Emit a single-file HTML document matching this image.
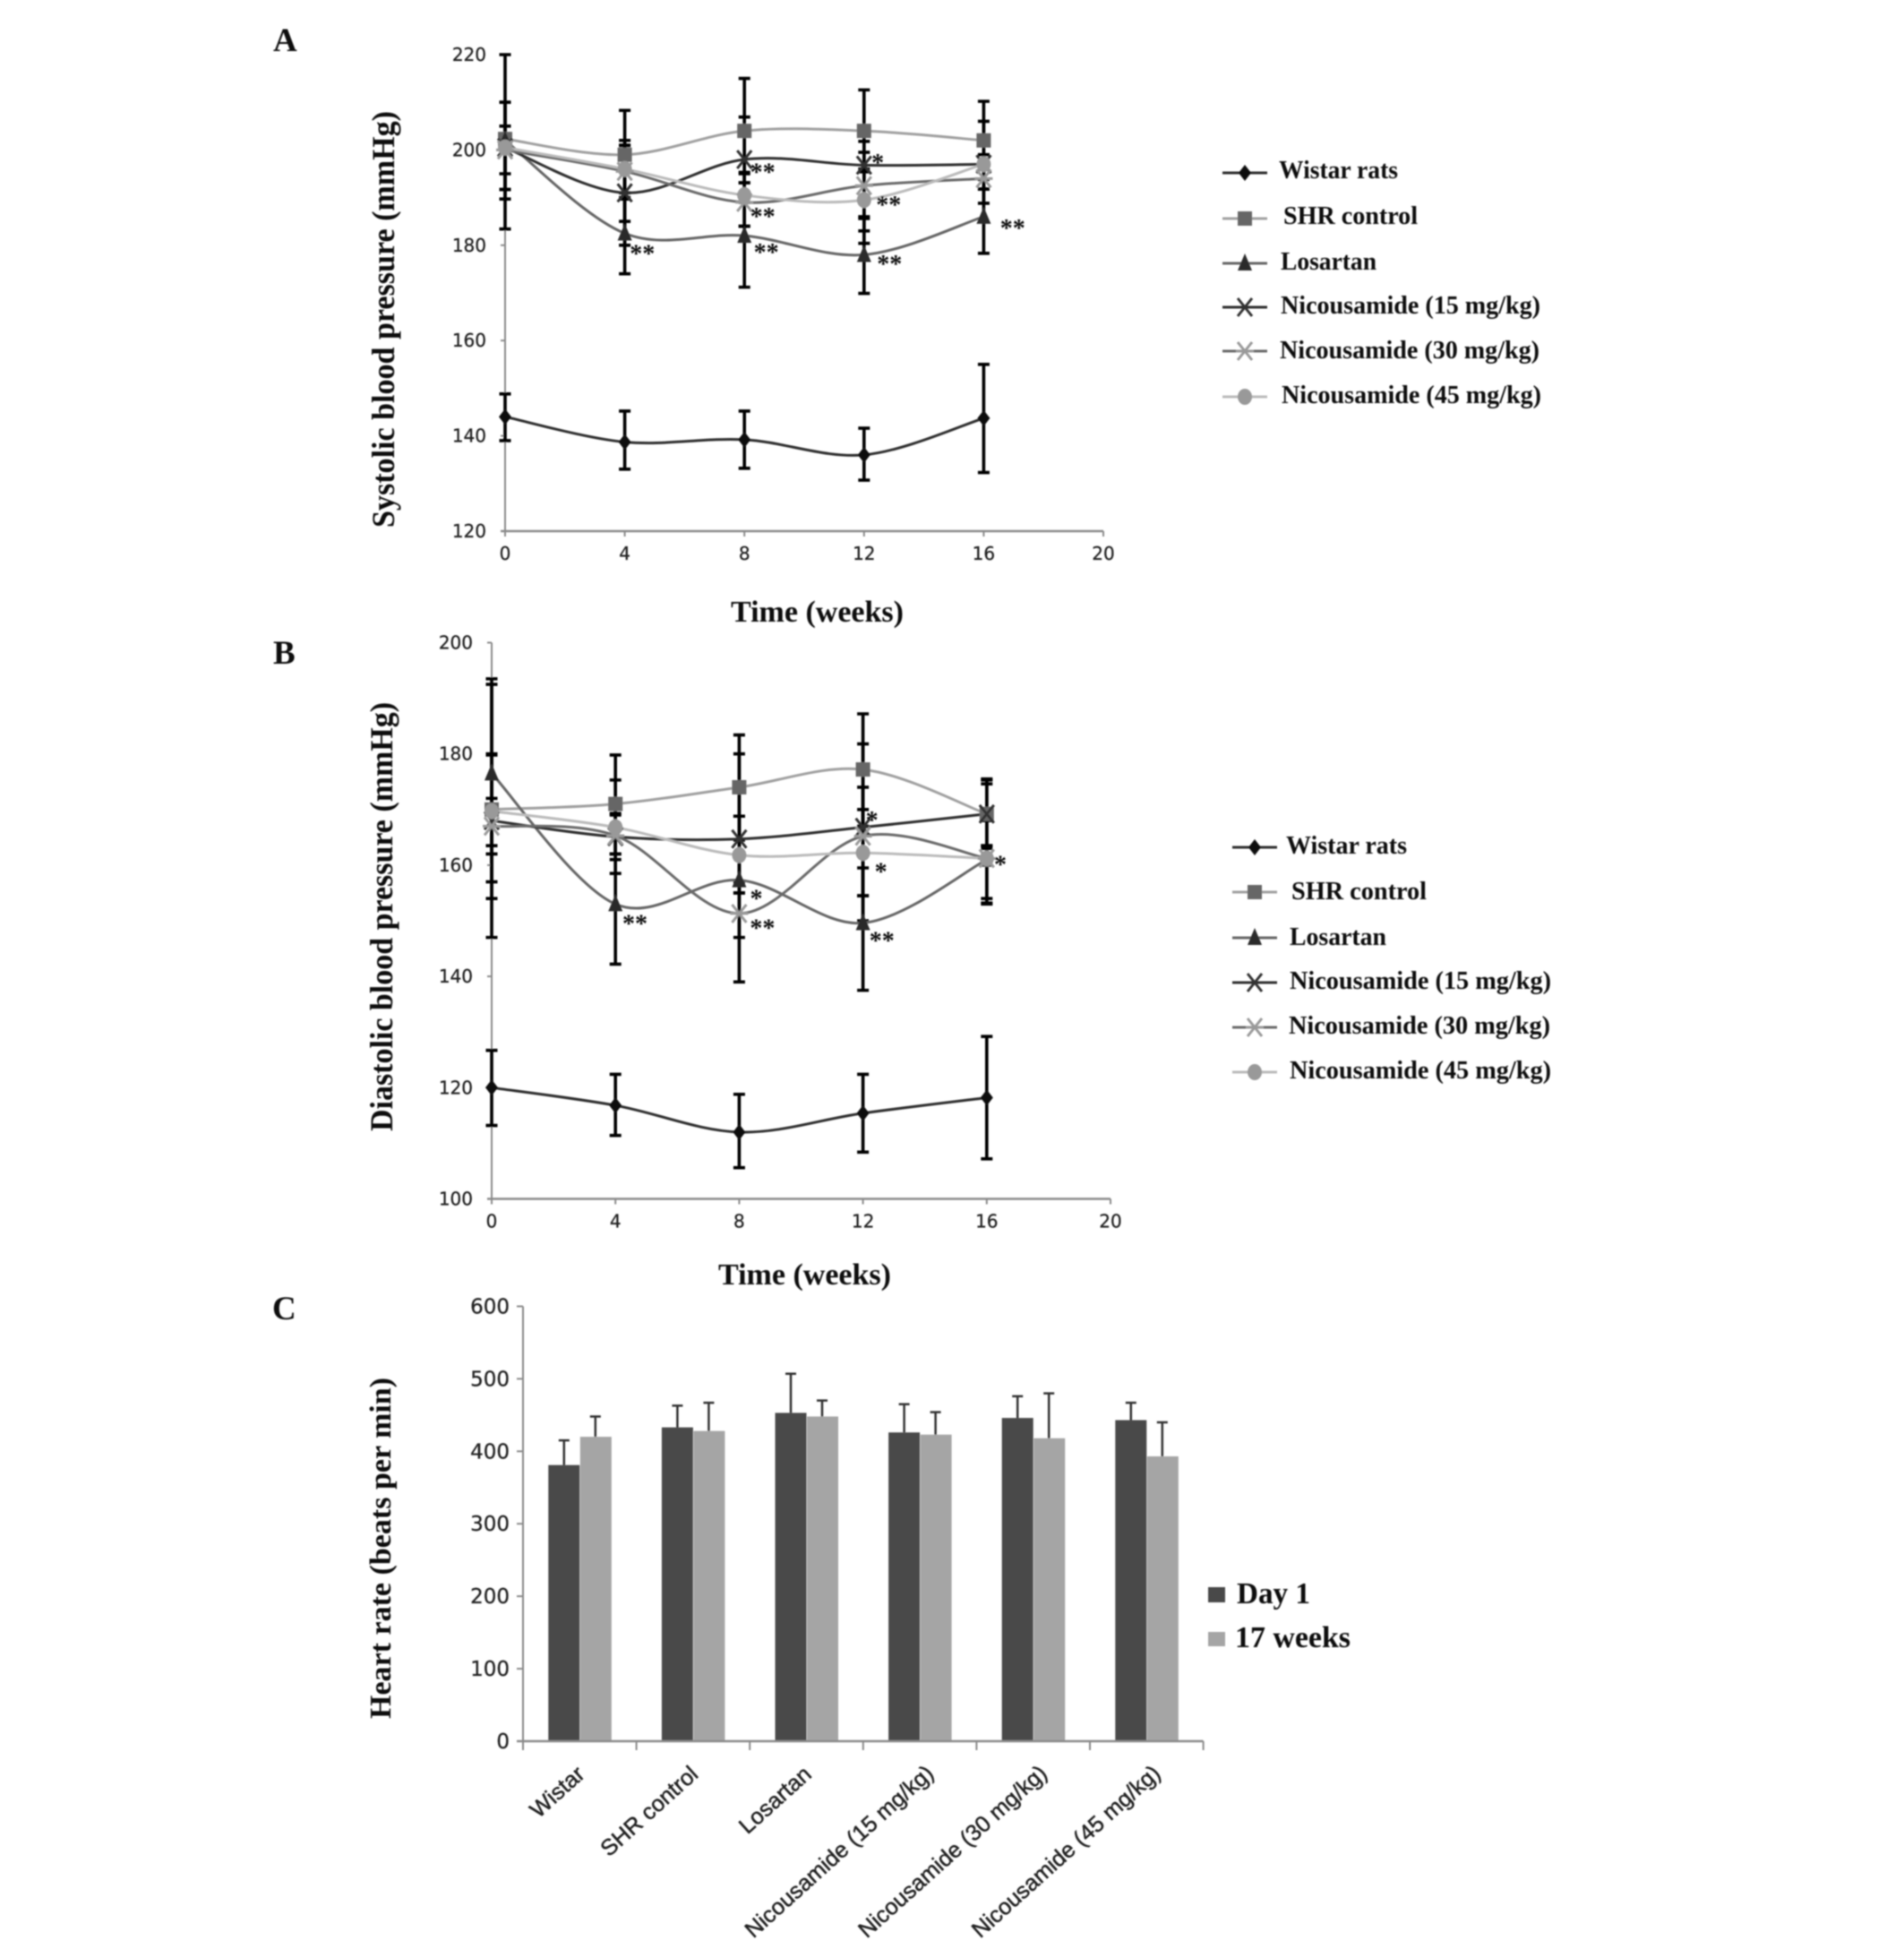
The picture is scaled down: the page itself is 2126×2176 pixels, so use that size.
<!DOCTYPE html>
<html lang="en">
<head>
<meta charset="utf-8">
<title>Blood pressure and heart rate charts</title>
<style>
html,body{margin:0;padding:0;background:#fff;}
svg{display:block;}
.serif{font-family:"Liberation Serif",serif;font-weight:bold;fill:#111;}
.tick{font-family:"DejaVu Sans",sans-serif;fill:#222;stroke:#222;stroke-width:0.3;}
.cat{font-family:"Liberation Sans",sans-serif;fill:#222;stroke:#222;stroke-width:0.5;}
</style>
</head>
<body>
<svg id="figure" xmlns="http://www.w3.org/2000/svg" width="2126" height="2176" viewBox="0 0 2126 2176">
<defs><filter id="soft" x="0" y="0" width="100%" height="100%"><feGaussianBlur stdDeviation="0.7"/></filter></defs>
<rect width="2126" height="2176" fill="#fff"/>
<g id="root" filter="url(#soft)">
<text class="serif" x="305" y="57" font-size="37">A</text>
<text class="serif" x="305" y="741" font-size="37">B</text>
<text class="serif" x="304" y="1473" font-size="37">C</text>

<text class="serif" transform="translate(440 589) rotate(-90)" font-size="36" textLength="465" lengthAdjust="spacingAndGlyphs">Systolic blood pressure (mmHg)</text>
<text class="serif" x="816" y="694" font-size="34" textLength="193" lengthAdjust="spacingAndGlyphs">Time (weeks)</text>
<text class="serif" transform="translate(438 1263) rotate(-90)" font-size="36" textLength="479" lengthAdjust="spacingAndGlyphs">Diastolic blood pressure (mmHg)</text>
<text class="serif" x="802" y="1434" font-size="34" textLength="193" lengthAdjust="spacingAndGlyphs">Time (weeks)</text>
<text class="serif" transform="translate(436 1919) rotate(-90)" font-size="34" textLength="381" lengthAdjust="spacingAndGlyphs">Heart rate (beats per min)</text>

<g font-size="28">
<text class="serif" x="1428" y="199" textLength="133" lengthAdjust="spacingAndGlyphs">Wistar rats</text>
<text class="serif" x="1433" y="250" textLength="150" lengthAdjust="spacingAndGlyphs">SHR control</text>
<text class="serif" x="1430" y="301" textLength="107" lengthAdjust="spacingAndGlyphs">Losartan</text>
<text class="serif" x="1430" y="350" textLength="290" lengthAdjust="spacingAndGlyphs">Nicousamide (15 mg/kg)</text>
<text class="serif" x="1429" y="400" textLength="290" lengthAdjust="spacingAndGlyphs">Nicousamide (30 mg/kg)</text>
<text class="serif" x="1431" y="450" textLength="290" lengthAdjust="spacingAndGlyphs">Nicousamide (45 mg/kg)</text>
</g>
<g font-size="28">
<text class="serif" x="1436" y="953" textLength="135" lengthAdjust="spacingAndGlyphs">Wistar rats</text>
<text class="serif" x="1442" y="1004" textLength="151" lengthAdjust="spacingAndGlyphs">SHR control</text>
<text class="serif" x="1440" y="1055" textLength="108" lengthAdjust="spacingAndGlyphs">Losartan</text>
<text class="serif" x="1440" y="1104" textLength="292" lengthAdjust="spacingAndGlyphs">Nicousamide (15 mg/kg)</text>
<text class="serif" x="1439" y="1154" textLength="292" lengthAdjust="spacingAndGlyphs">Nicousamide (30 mg/kg)</text>
<text class="serif" x="1440" y="1204" textLength="292" lengthAdjust="spacingAndGlyphs">Nicousamide (45 mg/kg)</text>
</g>
<g font-size="34">
<rect x="1349" y="1772" width="19" height="17" fill="#4a4a4a"/>
<text class="serif" x="1381" y="1790" textLength="82" lengthAdjust="spacingAndGlyphs">Day 1</text>
<rect x="1349" y="1822" width="19" height="16" fill="#a5a5a5"/>
<text class="serif" x="1379" y="1839" textLength="129" lengthAdjust="spacingAndGlyphs">17 weeks</text>
</g>
</g>
</svg>
<script>
// ---- shared x categories ----
const weeks = [0, 4, 8, 12, 16];
const xTickLabels = [0, 4, 8, 12, 16, 20];

// ---- Panel A: systolic ----
const sysYTicks = [120, 140, 160, 180, 200, 220];
const sysWistar = [144, 138.7, 139.2, 136, 143.7];
const sysWistarUp = [148.8, 145.2, 145.2, 141.6, 155];
const sysWistarLo = [139, 133, 133.2, 130.7, 132.3];
const sysShr = [202.3, 199, 204, 204, 202];
const sysShrUp = [220, 208.3, 215, 212.6, 210.2];
const sysShrLo = [183.4, 189.7, 193.1, 195.4, 193.8];
const sysLos = [202, 182.5, 182, 178, 186];
const sysLosUp = [210, 191, 193.1, 186, 193.8];
const sysLosLo = [191.7, 174, 171.2, 169.9, 178.3];
const sysN15 = [200.5, 191, 198, 196.8, 197];
const sysN15Up = [210, 202, 206.9, 201.8, 206];
const sysN15Lo = [191.7, 180, 189, 183, 188.8];
const sysN30 = [200, 195.5, 189, 192.5, 194];
const sysN30Up = [203, 201, 195.3, 199.5, 197];
const sysN30Lo = [189.7, 185, 184, 185.6, 191.8];
const sysN45 = [200.5, 196, 190.5, 189.5, 197];
const sysN45Up = [205, 200.9, 195, 196, 199];
const sysN45Lo = [195, 190, 184, 180.4, 191.8];
const sysNoteWeek = [4.62, 8.64, 8.64, 8.76, 12.49, 12.85, 12.88, 17];
const sysNoteValue = [178.9, 196, 186.7, 179.2, 198, 189.2, 176.8, 184.3];
const sysNoteText = ['**', '**', '**', '**', '*', '**', '**', '**'];

// ---- Panel B: diastolic ----
const diaYTicks = [100, 120, 140, 160, 180, 200];
const diaWistar = [120, 116.8, 112, 115.4, 118.2];
const diaWistarUp = [126.7, 122.4, 118.8, 122.4, 129.2];
const diaWistarLo = [113.2, 111.4, 105.6, 108.4, 107.2];
const diaShr = [170, 171, 174, 177.2, 169.2];
const diaShrUp = [193.5, 179.8, 183.4, 187.2, 175.3];
const diaShrLo = [147, 162, 164.5, 167, 163];
const diaLos = [176.5, 153, 157.3, 149.6, 161];
const diaLosUp = [192.5, 175.3, 168.8, 159.5, 174.6];
const diaLosLo = [157, 142.2, 139, 137.5, 153];
const diaN15 = [168, 165.1, 164.7, 166.8, 169.2];
const diaN15Up = [179.8, 169, 180, 181.8, 175.5];
const diaN15Lo = [162, 158.5, 155, 154.5, 163.5];
const diaN30 = [167, 165.3, 151.3, 165.2, 161.2];
const diaN30Up = [180, 169.3, 157, 174, 168];
const diaN30Lo = [154, 161, 147, 150, 154];
const diaN45 = [169.7, 166.8, 161.8, 162.2, 161.2];
const diaN45Up = [172, 171.5, 168.8, 170, 163.5];
const diaN45Lo = [163.5, 162, 155, 154.5, 153.2];
const diaNoteWeek = [4.66, 8.58, 8.78, 12.32, 12.61, 12.64, 16.47];
const diaNoteValue = [150.1, 154.6, 149.3, 168.7, 159.4, 147, 160.7];
const diaNoteText = ['**', '*', '**', '*', '*', '**', '*'];

// ---- Panel C: heart rate ----
const hrCategories = ['Wistar', 'SHR control', 'Losartan', 'Nicousamide (15 mg/kg)', 'Nicousamide (30 mg/kg)', 'Nicousamide (45 mg/kg)'];
const hrYTicks = [0, 100, 200, 300, 400, 500, 600];
const hrDay1 = [381, 433, 453, 426, 446, 443];
const hrDay1Up = [415, 463, 507, 465, 476, 467];
const hrWeek17 = [420, 428, 448, 423, 418, 393];
const hrWeek17Up = [448, 467, 470, 454, 480, 440];

const NS = 'http://www.w3.org/2000/svg';
const root = document.getElementById('root');

function make(parent, tag, attrs) {
  const e = document.createElementNS(NS, tag);
  for (const k in attrs) e.setAttribute(k, attrs[k]);
  parent.appendChild(e);
  return e;
}

function smoothPath(pts) {
  let d = 'M' + pts[0][0] + ' ' + pts[0][1];
  for (let i = 0; i < pts.length - 1; i++) {
    const p0 = pts[Math.max(i - 1, 0)], p1 = pts[i], p2 = pts[i + 1], p3 = pts[Math.min(i + 2, pts.length - 1)];
    const c1x = p1[0] + (p2[0] - p0[0]) / 6, c1y = p1[1] + (p2[1] - p0[1]) / 6;
    const c2x = p2[0] - (p3[0] - p1[0]) / 6, c2y = p2[1] - (p3[1] - p1[1]) / 6;
    d += 'C' + c1x + ' ' + c1y + ' ' + c2x + ' ' + c2y + ' ' + p2[0] + ' ' + p2[1];
  }
  return d;
}

function drawMarker(parent, kind, x, y, color) {
  let e;
  if (kind === 'diamond') {
    e = make(parent, 'polygon', {points: (x) + ',' + (y - 9) + ' ' + (x + 7) + ',' + y + ' ' + x + ',' + (y + 9) + ' ' + (x - 7) + ',' + y, fill: color});
  } else if (kind === 'square') {
    e = make(parent, 'rect', {x: x - 8, y: y - 8, width: 16, height: 16, fill: color});
  } else if (kind === 'triangle') {
    e = make(parent, 'polygon', {points: x + ',' + (y - 11) + ' ' + (x + 8) + ',' + (y + 8) + ' ' + (x - 8) + ',' + (y + 8), fill: color});
  } else if (kind === 'circle') {
    e = make(parent, 'ellipse', {cx: x, cy: y, rx: 8, ry: 9, fill: color});
  } else if (kind === 'cross') {
    e = make(parent, 'path', {d: 'M' + (x - 8) + ' ' + (y - 10) + 'L' + (x + 8) + ' ' + (y + 10) + 'M' + (x + 8) + ' ' + (y - 10) + 'L' + (x - 8) + ' ' + (y + 10), stroke: color, 'stroke-width': 3, fill: 'none'});
  } else {
    e = make(parent, 'path', {d: 'M' + (x - 8) + ' ' + (y - 10) + 'L' + (x + 8) + ' ' + (y + 10) + 'M' + (x + 8) + ' ' + (y - 10) + 'L' + (x - 8) + ' ' + (y + 10) + 'M' + (x - 10) + ' ' + y + 'L' + (x + 10) + ' ' + y, stroke: color, 'stroke-width': 3, fill: 'none'});
  }
  
  
}

function drawLineChart(cfg) {
  const xScale = w => cfg.x0 + w * cfg.xUnit;
  const yScale = v => cfg.yBase - (v - cfg.yMin) * cfg.yUnit;
  const g = make(root, 'g', {});
  
  

  // axes
  const yAxis = make(g, 'line', {x1: cfg.x0, x2: cfg.x0, y1: yScale(cfg.yTicks[cfg.yTicks.length - 1]), y2: cfg.yBase, stroke: '#8a8a8a', 'stroke-width': 2});
  
  
  const xAxis = make(g, 'line', {x1: cfg.x0 - 5, x2: xScale(20), y1: cfg.yBase, y2: cfg.yBase, stroke: '#8a8a8a', 'stroke-width': 2.5});
  
  
  cfg.yTicks.forEach(v => {
    const t = make(g, 'line', {x1: cfg.x0 - 5, x2: cfg.x0, y1: yScale(v), y2: yScale(v), stroke: '#8a8a8a', 'stroke-width': 2});
    
    
    const l = make(g, 'text', {class: 'tick', x: cfg.x0 - 21, y: yScale(v) + 7, 'text-anchor': 'end', 'font-size': 20});
    l.textContent = v;
    
    
  });
  xTickLabels.forEach(w => {
    const t = make(g, 'line', {x1: xScale(w), x2: xScale(w), y1: cfg.yBase, y2: cfg.yBase + 6, stroke: '#8a8a8a', 'stroke-width': 2});
    
    
    const l = make(g, 'text', {class: 'tick', x: xScale(w), y: cfg.yBase + 32, 'text-anchor': 'middle', 'font-size': 20});
    l.textContent = w;
    
    
  });

  // error bars
  cfg.series.forEach(s => {
    s.values.forEach((v, i) => {
      const x = xScale(weeks[i]), yU = yScale(s.up[i]), yL = yScale(s.lo[i]);
      const e = make(g, 'path', {d: 'M' + x + ' ' + yU + 'L' + x + ' ' + yL + 'M' + (x - 6.5) + ' ' + yU + 'L' + (x + 6.5) + ' ' + yU + 'M' + (x - 6.5) + ' ' + yL + 'L' + (x + 6.5) + ' ' + yL, stroke: '#000', 'stroke-width': 3.6, fill: 'none'});
      
      
    });
  });

  // lines
  cfg.series.forEach(s => {
    const pts = s.values.map((v, i) => [xScale(weeks[i]), yScale(v)]);
    const p = make(g, 'path', {d: smoothPath(pts), stroke: s.line, 'stroke-width': 3, fill: 'none'});
    
    
  });

  // markers
  cfg.series.forEach(s => {
    s.values.forEach((v, i) => drawMarker(g, s.marker, xScale(weeks[i]), yScale(v), s.color));
  });

  // significance notes
  cfg.noteWeek.forEach((w, i) => {
    const n = make(g, 'text', {class: 'serif', x: xScale(w) - 1, y: yScale(cfg.noteValue[i]) + 13, 'text-anchor': 'middle', 'font-size': 28});
    n.textContent = cfg.noteText[i];
    
    
  });

  // legend icons
  cfg.series.forEach((s, i) => {
    const y = cfg.legendY[i];
    const ln = make(g, 'line', {x1: cfg.legendX, x2: cfg.legendX + 50, y1: y, y2: y, stroke: s.line, 'stroke-width': 3});
    
    
    drawMarker(g, s.marker, cfg.legendX + 25, y, s.color);
  });
}

drawLineChart({
  id: 'systolic', x0: 564, xUnit: 33.4, yBase: 593, yMin: 120, yUnit: 5.32,
  yTicks: sysYTicks, legendX: 1365, legendY: [193, 244, 294, 343, 392, 443],
  noteWeek: sysNoteWeek, noteValue: sysNoteValue, noteText: sysNoteText,
  series: [
    {key: 'wistar', values: sysWistar, up: sysWistarUp, lo: sysWistarLo, line: '#2e2e2e', color: '#111', marker: 'diamond'},
    {key: 'shr', values: sysShr, up: sysShrUp, lo: sysShrLo, line: '#a0a0a0', color: '#666', marker: 'square'},
    {key: 'losartan', values: sysLos, up: sysLosUp, lo: sysLosLo, line: '#666', color: '#2c2c2c', marker: 'triangle'},
    {key: 'n15', values: sysN15, up: sysN15Up, lo: sysN15Lo, line: '#2e2e2e', color: '#333', marker: 'cross'},
    {key: 'n30', values: sysN30, up: sysN30Up, lo: sysN30Lo, line: '#6a6a6a', color: '#9a9a9a', marker: 'star'},
    {key: 'n45', values: sysN45, up: sysN45Up, lo: sysN45Lo, line: '#bbb', color: '#999', marker: 'circle'}
  ]
});

drawLineChart({
  id: 'diastolic', x0: 549, xUnit: 34.55, yBase: 1338.5, yMin: 100, yUnit: 6.21,
  yTicks: diaYTicks, legendX: 1376, legendY: [946, 996, 1047, 1097, 1147, 1197],
  noteWeek: diaNoteWeek, noteValue: diaNoteValue, noteText: diaNoteText,
  series: [
    {key: 'wistar', values: diaWistar, up: diaWistarUp, lo: diaWistarLo, line: '#2e2e2e', color: '#111', marker: 'diamond'},
    {key: 'shr', values: diaShr, up: diaShrUp, lo: diaShrLo, line: '#a0a0a0', color: '#666', marker: 'square'},
    {key: 'losartan', values: diaLos, up: diaLosUp, lo: diaLosLo, line: '#666', color: '#2c2c2c', marker: 'triangle'},
    {key: 'n15', values: diaN15, up: diaN15Up, lo: diaN15Lo, line: '#2e2e2e', color: '#333', marker: 'cross'},
    {key: 'n30', values: diaN30, up: diaN30Up, lo: diaN30Lo, line: '#6a6a6a', color: '#9a9a9a', marker: 'star'},
    {key: 'n45', values: diaN45, up: diaN45Up, lo: diaN45Lo, line: '#bbb', color: '#999', marker: 'circle'}
  ]
});

// ---- bar chart ----
(function () {
  const x0 = 584, groupW = 126.6, yBase = 1944, yUnit = 0.8092, barW = 35;
  const yScale = v => yBase - v * yUnit;
  const g = make(root, 'g', {});
  
  

  const yAxis = make(g, 'line', {x1: x0, x2: x0, y1: yScale(600), y2: yBase, stroke: '#8a8a8a', 'stroke-width': 2});
  
  
  hrYTicks.forEach(v => {
    const t = make(g, 'line', {x1: x0 - 7, x2: x0, y1: yScale(v), y2: yScale(v), stroke: '#8a8a8a', 'stroke-width': 2});
    
    
    const l = make(g, 'text', {class: 'tick', x: x0 - 15, y: yScale(v) + 8, 'text-anchor': 'end', 'font-size': 23});
    l.textContent = v;
    
    
  });

  hrCategories.forEach((c, i) => {
    const cx = x0 + groupW * (i + 0.5);
    const b1 = make(g, 'rect', {x: cx - barW, y: yScale(hrDay1[i]), width: barW, height: hrDay1[i] * yUnit, fill: '#4a4a4a'});
    
    
    const b2 = make(g, 'rect', {x: cx + 0.5, y: yScale(hrWeek17[i]), width: barW, height: hrWeek17[i] * yUnit, fill: '#a5a5a5'});
    
    
    const e1x = cx - barW / 2, e2x = cx + barW / 2;
    const e1 = make(g, 'path', {d: 'M' + e1x + ' ' + yScale(hrDay1[i]) + 'L' + e1x + ' ' + yScale(hrDay1Up[i]) + 'M' + (e1x - 6) + ' ' + yScale(hrDay1Up[i]) + 'L' + (e1x + 6) + ' ' + yScale(hrDay1Up[i]), stroke: '#333', 'stroke-width': 2.5, fill: 'none'});
    
    
    const e2 = make(g, 'path', {d: 'M' + e2x + ' ' + yScale(hrWeek17[i]) + 'L' + e2x + ' ' + yScale(hrWeek17Up[i]) + 'M' + (e2x - 6) + ' ' + yScale(hrWeek17Up[i]) + 'L' + (e2x + 6) + ' ' + yScale(hrWeek17Up[i]), stroke: '#333', 'stroke-width': 2.5, fill: 'none'});
    
    
    const longLabel = c.length > 12;
    const lx = cx + (longLabel ? 17 : 7);
    const ly = longLabel ? 1982 : 1983;
    const l = make(g, 'text', {class: 'cat', transform: 'translate(' + lx + ' ' + ly + ') rotate(-42)', 'text-anchor': 'end', 'font-size': 25.2});
    l.textContent = c;
    
    
  });

  for (let i = 0; i <= hrCategories.length; i++) {
    const t = make(g, 'line', {x1: x0 + groupW * i, x2: x0 + groupW * i, y1: yBase, y2: yBase + 10, stroke: '#8a8a8a', 'stroke-width': 2});
    
    
  }
  const xAxis = make(g, 'line', {x1: x0 - 7, x2: x0 + groupW * hrCategories.length, y1: yBase, y2: yBase, stroke: '#8a8a8a', 'stroke-width': 2.5});
  
  
})();
</script>
</body>
</html>
